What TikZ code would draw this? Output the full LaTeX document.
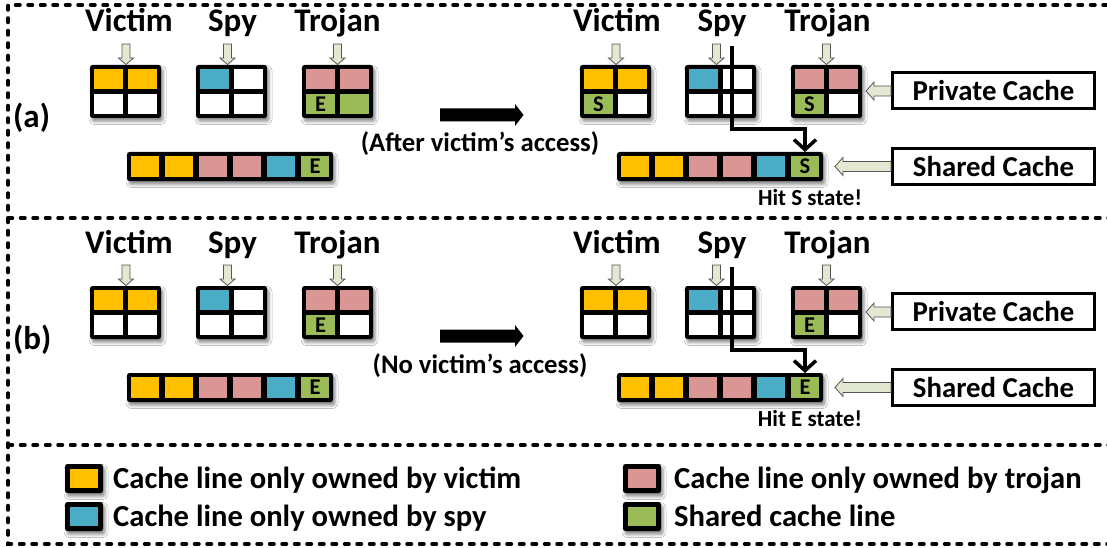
\documentclass[tikz,border=0pt]{standalone}
\usepackage{fontspec}
\setmainfont{Carlito}
\usetikzlibrary{shadows.blur,arrows.meta}
\definecolor{cY}{HTML}{FFC000}
\definecolor{cB}{HTML}{4BACC6}
\definecolor{cP}{HTML}{D99694}
\definecolor{cG}{HTML}{9BBB59}
\definecolor{hol}{HTML}{E2E8D2}
\definecolor{holline}{HTML}{555555}
\tikzset{
  blackbox/.style={fill=black, rounded corners=2.5pt,
    blur shadow={shadow xshift=2pt, shadow yshift=-3.5pt, shadow blur radius=3pt, shadow opacity=45}},
  cellnode/.style={inner sep=0pt, outer sep=0pt, minimum width=29pt, minimum height=20pt,
    anchor=north west, font=\fontsize{22.5}{22.5}\selectfont\bfseries},
  barcell/.style={cellnode, minimum width=28pt, minimum height=21pt},
  lbl/.style={inner sep=0pt, anchor=base, font=\fontsize{33}{33}\selectfont\bfseries},
  caption/.style={inner sep=0pt, anchor=base, font=\fontsize{26.7}{26.7}\selectfont\bfseries},
  hit/.style={inner sep=0pt, anchor=base, font=\fontsize{23}{23}\selectfont\bfseries},
  legtext/.style={inner sep=0pt, anchor=base west, font=\fontsize{30.6}{30.6}\selectfont\bfseries},
  cachebox/.style={draw=black, line width=3.5pt, fill=white, minimum width=202pt, minimum height=36pt,
    inner sep=0pt, font=\fontsize{28.8}{28.8}\selectfont\bfseries},
  hollow/.style={fill=hol, draw=holline, line width=0.8pt},
  spyline/.style={line width=3.5pt, -{Straight Barb[length=10pt,width=22pt,line width=3.5pt]}},
  dashborder/.style={line width=3.5pt, dash pattern=on 4.5pt off 8pt, line cap=round},
}
\newcommand\privcache[7]{%
  \fill[blackbox] (#1,65) rectangle ++(71,53);
  \node[cellnode,fill=#3] (#2-1) at (#1+4,69) {};
  \node[cellnode,fill=#4] (#2-2) at (#1+38,69) {};
  \node[cellnode,fill=#5] (#2-3) at (#1+4,94) {#6};
  \node[cellnode,fill=#7] (#2-4) at (#1+38,94) {};
}
\newcommand\sharedbar[3]{%
  \fill[blackbox] (#1,152) rectangle ++(206,29);
  \node[barcell,fill=cY] (#2-1) at (#1+4,156) {};
  \node[barcell,fill=cY] (#2-2) at (#1+38,156) {};
  \node[barcell,fill=cP] (#2-3) at (#1+72,156) {};
  \node[barcell,fill=cP] (#2-4) at (#1+106,156) {};
  \node[barcell,fill=cB] (#2-5) at (#1+140,156) {};
  \node[barcell,fill=cG] (#2-6) at (#1+174,156) {#3};
}
\newcommand\downarr[1]{%
  \filldraw[hollow] (#1-4,44) -- (#1+4,44) -- (#1+4,58) -- (#1+7.5,58) -- (#1,64.5)
    -- (#1-7.5,58) -- (#1-4,58) -- cycle;
}
\newcommand\leftarr[3]{%
  \filldraw[hollow] (#3,#2-5) -- (#1+8,#2-5) -- (#1+8,#2-9) -- (#1,#2) -- (#1+8,#2+9)
    -- (#1+8,#2+5) -- (#3,#2+5) -- cycle;
}
\newcommand\panel[9]{% #1 left trojan br, #2 rv bl, #3 rv bl letter, #4 rt bl letter, #5 bar letter left, #6 bar letter right, #7 caption, #8 panel label, #9 hit text
  \node[lbl] (lv) at (129,32) {Victim};
  \node[lbl] (ls) at (232.5,32) {Spy};
  \node[lbl] (lt) at (337.5,32) {Trojan};
  \downarr{126}\downarr{227.5}\downarr{337.5}
  \privcache{90}{lvb}{cY}{cY}{white}{}{white}
  \privcache{196}{lsb}{cB}{white}{white}{}{white}
  \privcache{302}{ltb}{cP}{cP}{cG}{E}{#1}
  \sharedbar{127}{lbar}{#5}
  \node[lbl, anchor=base west] (plabel) at (13,128) {#8};
  \fill (440,108.5) -- (515,108.5) -- (515,104) -- (523.5,115) -- (515,126) -- (515,121.5)
    -- (440,121.5) -- cycle;
  \node[caption] (cap) at (480,152) {#7};
  \node[lbl] (rv) at (617,32) {Victim};
  \node[lbl] (rs) at (722,32) {Spy};
  \node[lbl] (rt) at (827.5,32) {Trojan};
  \downarr{616}\downarr{716.5}\downarr{826.5}
  \privcache{580}{rvb}{cY}{cY}{#2}{#3}{white}
  \privcache{685}{rsb}{cB}{white}{white}{}{white}
  \privcache{791}{rtb}{cP}{cP}{cG}{#4}{white}
  \sharedbar{617}{rbar}{#6}
  \node[cachebox] (pc) at (993.5,90.5) {Private Cache};
  \node[cachebox] (sc) at (993.5,166.5) {Shared Cache};
  \leftarr{866}{91}{891}
  \leftarr{835}{166.5}{891}
  \coordinate (st) at (732,46);
  \draw[spyline] (st) -- ++(0,83) -| ([yshift=4pt]rbar-6.north);
  \node[hit] (hit) at (810,205) {#9};
}
\begin{document}
\begin{tikzpicture}[x=1pt,y=-1pt]
\clip (0,0) rectangle (1107,548);
\fill[white] (0,0) rectangle (1107,548);
\begin{scope}[name prefix=a-]
\panel{cG}{cG}{S}{S}{E}{S}{(After victim’s access)}{(a)}{Hit S state!}
\end{scope}
\begin{scope}[shift={(0,221)}, name prefix=b-]
\panel{white}{white}{}{E}{E}{E}{(No victim’s access)}{(b)}{Hit E state!}
\end{scope}
% legend
\fill[blackbox] (65,464) rectangle (103,493);
\node[inner sep=0pt, fill=cY, minimum width=28pt, minimum height=19pt] (k1) at (84,478.5) {};
\node[legtext] (t1) at (113,488) {Cache line only owned by victim};
\fill[blackbox] (65,502) rectangle (103,531);
\node[inner sep=0pt, fill=cB, minimum width=28pt, minimum height=19pt] (k2) at (84,516.5) {};
\node[legtext] (t2) at (113,526) {Cache line only owned by spy};
\fill[blackbox] (623,464) rectangle (661,493);
\node[inner sep=0pt, fill=cP, minimum width=28pt, minimum height=19pt] (k3) at (642,478.5) {};
\node[legtext] (t3) at (674,488) {Cache line only owned by trojan};
\fill[blackbox] (623,502) rectangle (661,531);
\node[inner sep=0pt, fill=cG, minimum width=28pt, minimum height=19pt] (k4) at (642,516.5) {};
\node[legtext] (t4) at (674,526) {Shared cache line};
% dashed frame
\draw[dashborder] (1120,5) -- (8,5) -- (8,544) -- (1120,544);
\draw[dashborder] (8,218) -- (1120,218);
\draw[dashborder] (8,445) -- (1120,445);
\end{tikzpicture}
\end{document}
